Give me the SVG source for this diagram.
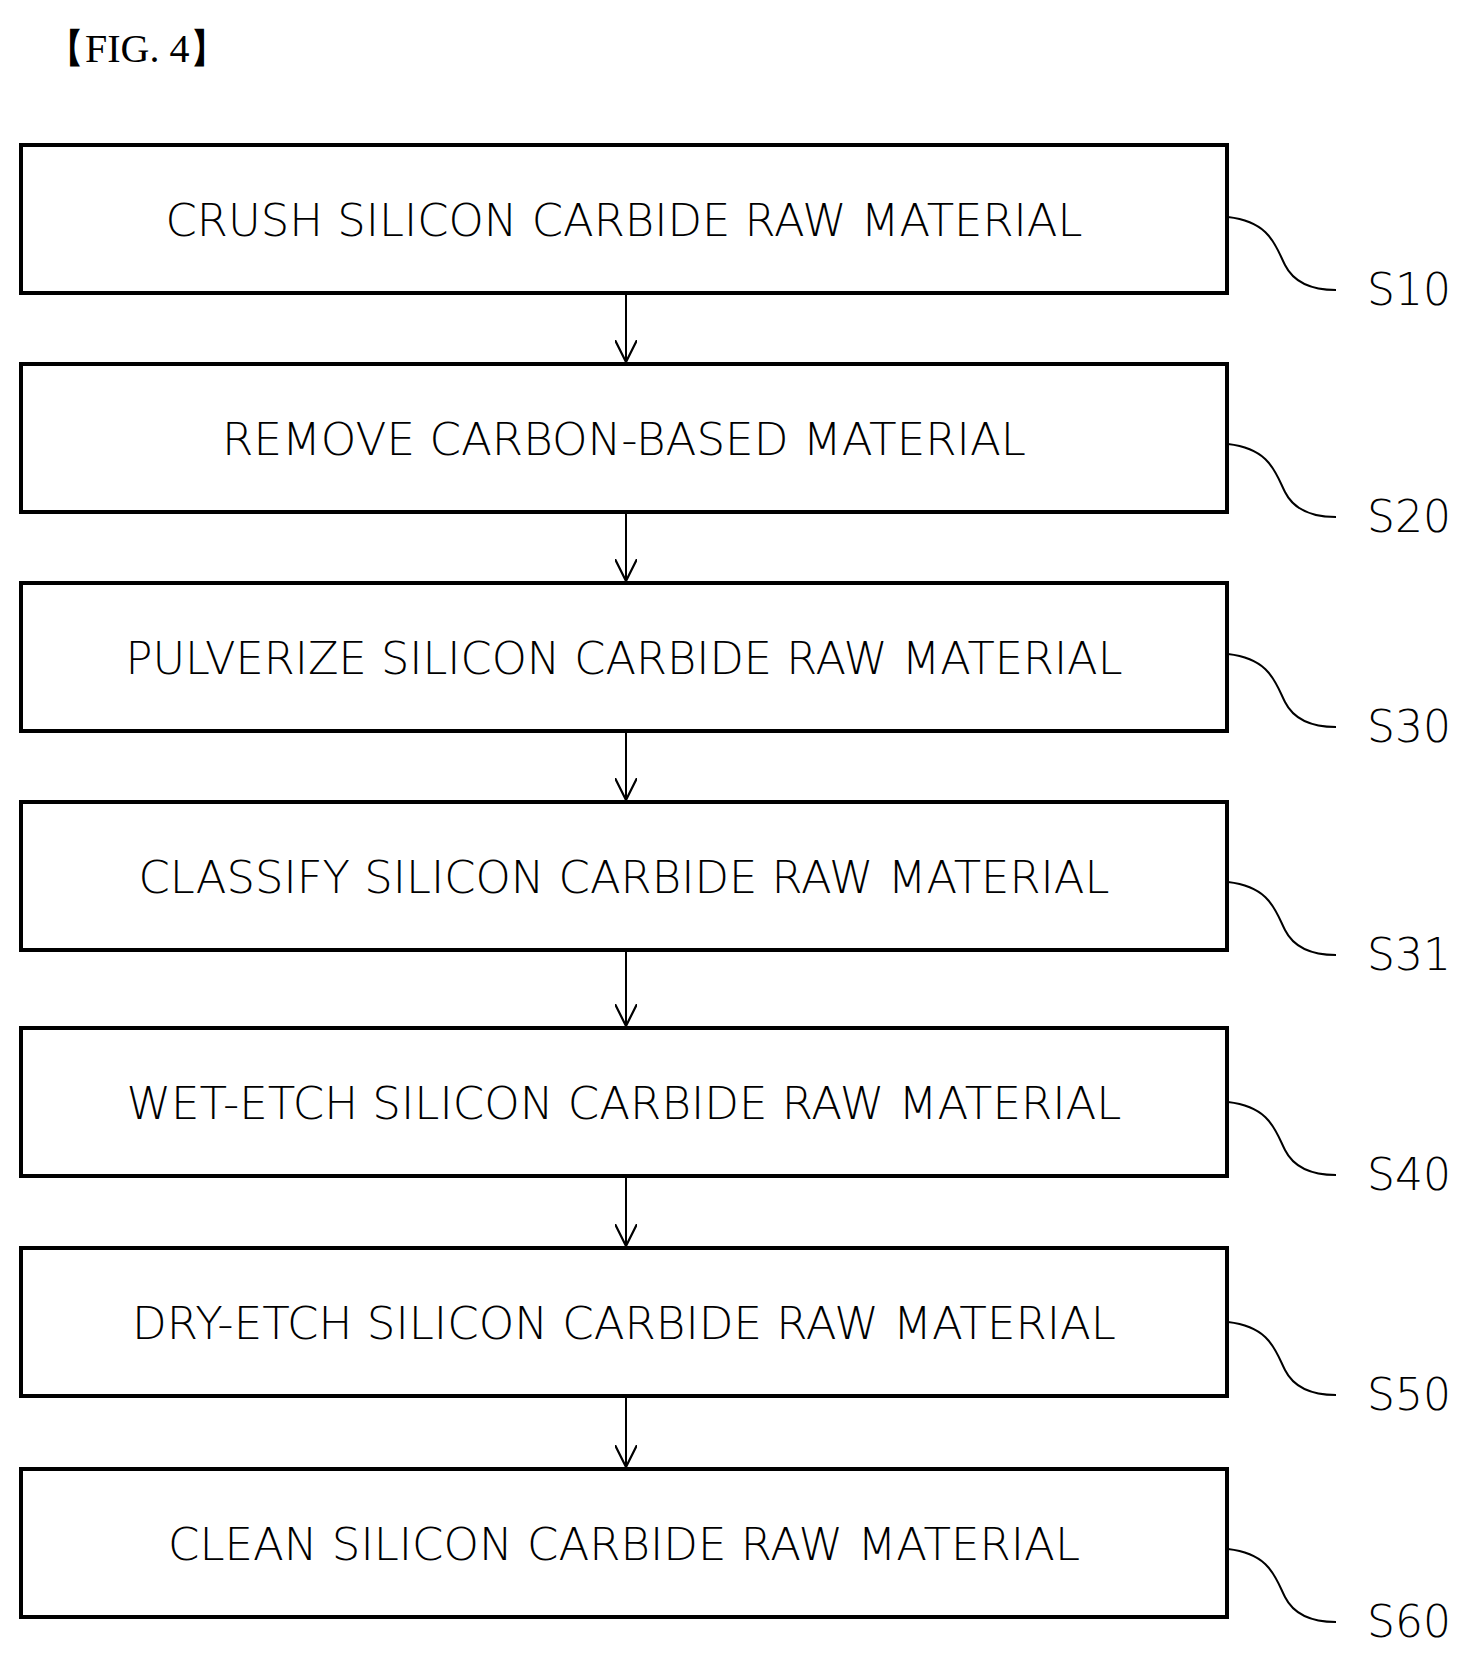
<svg xmlns="http://www.w3.org/2000/svg" width="1475" height="1659" viewBox="0 0 1475 1659">
<style>
.b{fill:#fff;stroke:#000;stroke-width:4}
.t{font-family:"DejaVu Sans",sans-serif;font-weight:200;font-size:44px;text-anchor:middle}
.l{font-family:"DejaVu Sans",sans-serif;font-weight:200;font-size:44px}
.c{fill:none;stroke:#000;stroke-width:2}
</style>
<defs><marker id="a" viewBox="0 0 10 10" refX="10" refY="5" markerWidth="22" markerHeight="22" markerUnits="userSpaceOnUse" orient="auto"><path d="M0,0L10,5L0,10" fill="none" stroke="#000" stroke-width="1"/></marker></defs>
<rect width="1475" height="1659" fill="#fff"/>
<text x="45" y="62" font-family="Liberation Serif,serif" font-size="40">【FIG. 4】</text>
<g id="connectors">
<line class="c" x1="626" y1="293" x2="626" y2="362" marker-end="url(#a)"/>
<line class="c" x1="626" y1="512" x2="626" y2="581" marker-end="url(#a)"/>
<line class="c" x1="626" y1="731" x2="626" y2="800" marker-end="url(#a)"/>
<line class="c" x1="626" y1="950" x2="626" y2="1026" marker-end="url(#a)"/>
<line class="c" x1="626" y1="1176" x2="626" y2="1246" marker-end="url(#a)"/>
<line class="c" x1="626" y1="1396" x2="626" y2="1467" marker-end="url(#a)"/>
</g>
<g id="s10"><rect class="b" x="21" y="145" width="1206" height="148"/><text class="t" x="624" y="236" textLength="917" lengthAdjust="spacingAndGlyphs">CRUSH SILICON CARBIDE RAW MATERIAL</text><path class="c" d="M1228,217C1270,222 1275,245 1285,265C1295,285 1315,290 1336,290"/><text class="l" x="1367" y="305">S10</text></g>
<g id="s20"><rect class="b" x="21" y="364" width="1206" height="148"/><text class="t" x="624" y="455" textLength="804" lengthAdjust="spacingAndGlyphs">REMOVE CARBON-BASED MATERIAL</text><path class="c" d="M1228,444C1270,449 1275,472 1285,492C1295,512 1315,517 1336,517"/><text class="l" x="1367" y="532">S20</text></g>
<g id="s30"><rect class="b" x="21" y="583" width="1206" height="148"/><text class="t" x="624" y="674" textLength="997" lengthAdjust="spacingAndGlyphs">PULVERIZE SILICON CARBIDE RAW MATERIAL</text><path class="c" d="M1228,654C1270,659 1275,682 1285,702C1295,722 1315,727 1336,727"/><text class="l" x="1367" y="742">S30</text></g>
<g id="s31"><rect class="b" x="21" y="802" width="1206" height="148"/><text class="t" x="624" y="893" textLength="971" lengthAdjust="spacingAndGlyphs">CLASSIFY SILICON CARBIDE RAW MATERIAL</text><path class="c" d="M1228,882C1270,887 1275,910 1285,930C1295,950 1315,955 1336,955"/><text class="l" x="1367" y="970">S31</text></g>
<g id="s40"><rect class="b" x="21" y="1028" width="1206" height="148"/><text class="t" x="624" y="1119" textLength="995" lengthAdjust="spacingAndGlyphs">WET-ETCH SILICON CARBIDE RAW MATERIAL</text><path class="c" d="M1228,1102C1270,1107 1275,1130 1285,1150C1295,1170 1315,1175 1336,1175"/><text class="l" x="1367" y="1190">S40</text></g>
<g id="s50"><rect class="b" x="21" y="1248" width="1206" height="148"/><text class="t" x="624" y="1339" textLength="984" lengthAdjust="spacingAndGlyphs">DRY-ETCH SILICON CARBIDE RAW MATERIAL</text><path class="c" d="M1228,1322C1270,1327 1275,1350 1285,1370C1295,1390 1315,1395 1336,1395"/><text class="l" x="1367" y="1410">S50</text></g>
<g id="s60"><rect class="b" x="21" y="1469" width="1206" height="148"/><text class="t" x="624" y="1560" textLength="912" lengthAdjust="spacingAndGlyphs">CLEAN SILICON CARBIDE RAW MATERIAL</text><path class="c" d="M1228,1549C1270,1554 1275,1577 1285,1597C1295,1617 1315,1622 1336,1622"/><text class="l" x="1367" y="1637">S60</text></g>
</svg>
